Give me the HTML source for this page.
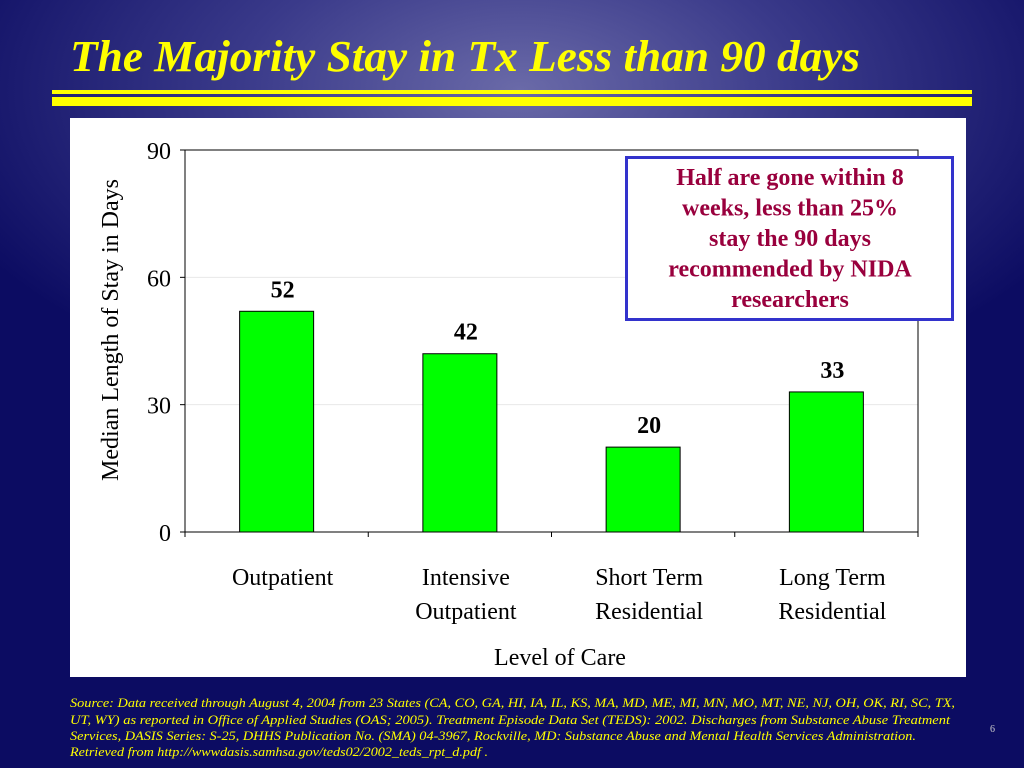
<!DOCTYPE html>
<html><head><meta charset="utf-8"><style>
body{margin:0;width:1024px;height:768px;overflow:hidden;font-family:"Liberation Serif",serif;
background:radial-gradient(ellipse 620px 330px at 520px 90px,#6a6aa8 0%,#3a3a8a 45%,#0c0c62 100%);position:relative}
.ln{position:absolute;left:52px;width:920px;background:#ffff00}
#panel{position:absolute;left:70px;top:118px;width:896px;height:559px;background:#fff}
#pg{position:absolute;left:990px;top:724px;color:#ccc;font-size:10px}
</style></head><body>
<svg width="1024" height="110" style="position:absolute;left:0;top:0">
<text x="70" y="71" textLength="790" lengthAdjust="spacingAndGlyphs" fill="#ffff00" font-style="italic" font-weight="bold" font-size="44" font-family="Liberation Serif">The Majority Stay in Tx Less than 90 days</text>
</svg>
<div class="ln" style="top:90px;height:4px"></div>
<div class="ln" style="top:97px;height:9px"></div>
<div id="panel"></div>
<svg id="chart" width="1024" height="768" style="position:absolute;left:0;top:0"></svg>
<svg width="1024" height="768" style="position:absolute;left:0;top:0" fill="#ffff00" font-style="italic" font-size="13" font-family="Liberation Serif">
<text x="70" y="707" textLength="885" lengthAdjust="spacingAndGlyphs">Source: Data received through August 4, 2004 from 23 States (CA, CO, GA, HI, IA, IL, KS, MA, MD, ME, MI, MN, MO, MT, NE, NJ, OH, OK, RI, SC, TX,</text>
<text x="70" y="724" textLength="880" lengthAdjust="spacingAndGlyphs">UT, WY)  as reported in Office of Applied Studies (OAS;  2005). Treatment Episode Data Set (TEDS): 2002. Discharges from Substance Abuse Treatment</text>
<text x="70" y="740" textLength="846" lengthAdjust="spacingAndGlyphs">Services, DASIS Series: S-25, DHHS Publication No. (SMA) 04-3967, Rockville, MD: Substance Abuse and Mental Health Services Administration.</text>
<text x="70" y="756" textLength="418" lengthAdjust="spacingAndGlyphs">Retrieved from http://wwwdasis.samhsa.gov/teds02/2002_teds_rpt_d.pdf .</text>
</svg>
<div id="pg">6</div>
<script>
const categories=[["Outpatient"],["Intensive","Outpatient"],["Short Term","Residential"],["Long Term","Residential"]];
const values=[52,42,20,33];
const labels=["52","42","20","33"];
const ticks=[0,30,60,90];
const svg=document.getElementById('chart');const NS="http://www.w3.org/2000/svg";
const X0=185,X1=918,Y0=532,Y1=150,YMAX=90;
const y=v=>Y0-(v/YMAX)*(Y0-Y1);
const band=(X1-X0)/categories.length;
const xc=i=>X0+band*(i+0.5);
function mk(t,a,txt){const e=document.createElementNS(NS,t);for(const k in a)e.setAttribute(k,a[k]);if(txt!=null)e.textContent=txt;svg.appendChild(e);return e;}
ticks.forEach(t=>{
 if(t>0){const g=mk('line',{x1:X0,x2:X1,y1:y(t),y2:y(t),stroke:'#e8e8e8','stroke-width':1});
 
 }
 const tk=mk('line',{x1:X0-5,x2:X0,y1:y(t),y2:y(t),stroke:'#000'});
 
 
 const l=mk('text',{x:X0-14,y:y(t)+9,'text-anchor':'end','font-size':24,'font-family':'Liberation Serif'},String(t));
 
 
});
const fr=mk('rect',{x:X0,y:Y1,width:X1-X0,height:Y0-Y1,fill:'none',stroke:'#000','stroke-width':1});


for(let i=0;i<=categories.length;i++){const t=mk('line',{x1:X0+band*i,x2:X0+band*i,y1:Y0,y2:Y0+5,stroke:'#000'});
 
 }
values.forEach((v,i)=>{
 const b=mk('rect',{x:xc(i)-37,y:y(v),width:74,height:Y0-y(v),fill:'#00ff00',stroke:'#000','stroke-width':1});
 
 
 const t=mk('text',{x:xc(i)+6,y:y(v)-14,'text-anchor':'middle','font-size':24,'font-weight':'bold','font-family':'Liberation Serif'},labels[i]);
 
 
 categories[i].forEach((s,j)=>{const c=mk('text',{x:xc(i)+6,y:585+j*34,'text-anchor':'middle','font-size':24,'font-family':'Liberation Serif'},s);
 
 });
});
const xt=mk('text',{x:560,y:665,'text-anchor':'middle','font-size':24,'font-family':'Liberation Serif'},'Level of Care');


const yt=mk('text',{x:0,y:0,transform:'translate(118,330) rotate(-90)','text-anchor':'middle','font-size':24,'font-family':'Liberation Serif'},'Median Length of Stay in Days');


const cb=mk('rect',{x:626.5,y:157.5,width:326,height:162,fill:'#fff',stroke:'#3333cc','stroke-width':3});


["Half are gone within 8","weeks, less than 25%","stay the 90 days","recommended by NIDA","researchers"].forEach((s,j)=>{
 const t=mk('text',{x:790,y:185+j*30.5,'text-anchor':'middle','font-size':24,'font-weight':'bold',fill:'#99003d','font-family':'Liberation Serif'},s);
 
 
});
</script>
</body></html>
